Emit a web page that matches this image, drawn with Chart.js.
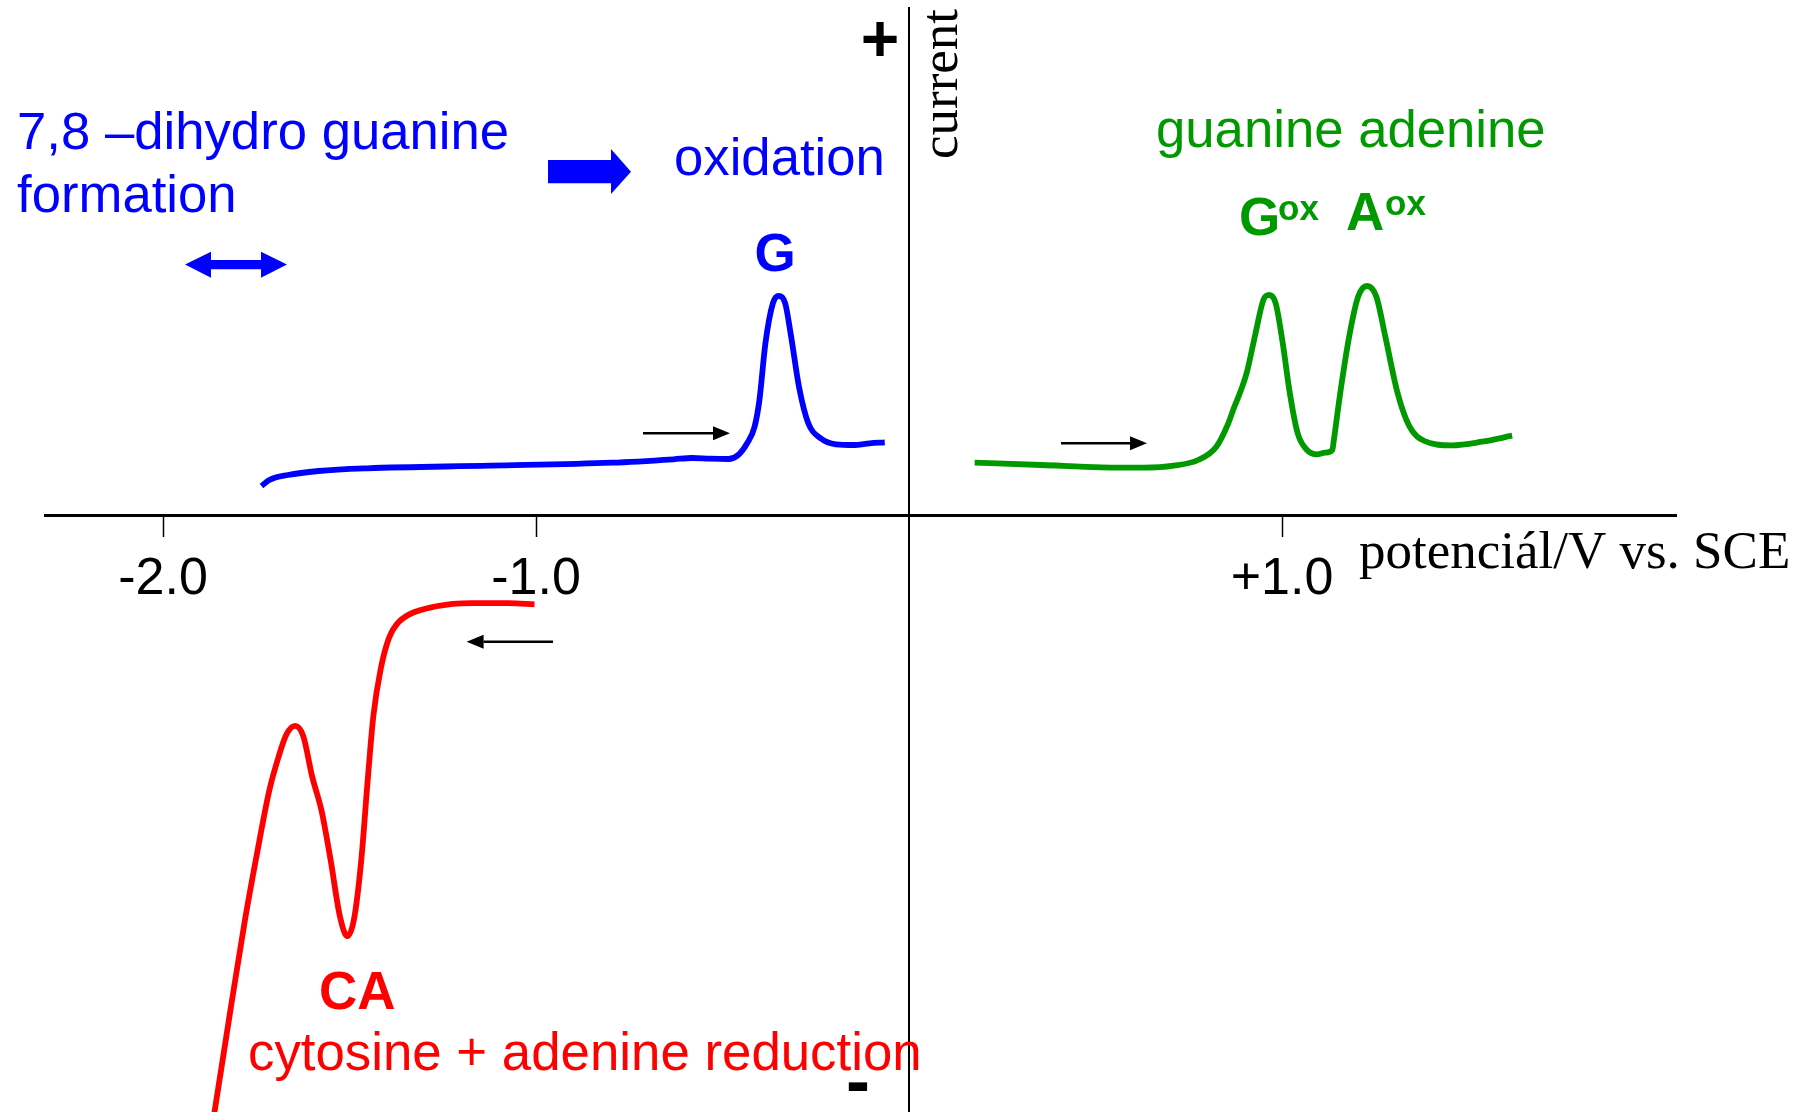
<!DOCTYPE html>
<html>
<head>
<meta charset="utf-8">
<title>DNA voltammetry sketch</title>
<script src="https://cdn.jsdelivr.net/npm/chart.js"></script>
<style>
  html, body { margin: 0; padding: 0; background: #fff; }
  canvas { display: block; }
</style>
</head>
<body>
<canvas id="voltChart" width="1807" height="1112"></canvas>
<script>
// Axis ticks (potential, V vs. SCE)
const potentialTicks = [-2, -1, 1];
const potentialTickLabels = ["-2.0", "-1.0", "+1.0"];

// Blue trace - guanine oxidation (G)
const oxidationV = [-1.736, -1.715, -1.665, -1.583, -1.452, -1.123, -0.796, -0.631, -0.582, -0.534, -0.484, -0.458, -0.434, -0.414, -0.401, -0.385, -0.365, -0.349, -0.332, -0.316, -0.295, -0.270, -0.237, -0.196, -0.147, -0.106, -0.065];
const oxidationI = [0.29, 0.35, 0.40, 0.44, 0.467, 0.493, 0.523, 0.557, 0.57, 0.563, 0.56, 0.60, 0.717, 0.883, 1.15, 1.717, 2.117, 2.19, 2.117, 1.783, 1.283, 0.917, 0.767, 0.707, 0.70, 0.717, 0.727];

// Red trace - cytosine + adenine reduction (CA)
const reductionV = [-1.875, -1.862, -1.821, -1.780, -1.747, -1.715, -1.690, -1.669, -1.646, -1.624, -1.600, -1.575, -1.550, -1.526, -1.506, -1.488, -1.468, -1.452, -1.436, -1.416, -1.394, -1.373, -1.337, -1.271, -1.173, -1.074, -1.004];
const reductionI = [-6.3, -5.971, -4.993, -4.043, -3.365, -2.754, -2.415, -2.194, -2.109, -2.211, -2.618, -2.957, -3.466, -4.009, -4.213, -4.043, -3.432, -2.686, -2.007, -1.532, -1.227, -1.091, -0.989, -0.915, -0.881, -0.881, -0.894];

// Green trace - guanine and adenine oxidation (Gox, Aox)
const purineV = [0.176, 0.354, 0.516, 0.629, 0.710, 0.775, 0.824, 0.856, 0.872, 0.885, 0.905, 0.929, 0.950, 0.966, 0.983, 1.002, 1.021, 1.042, 1.067, 1.094, 1.115, 1.135, 1.139, 1.156, 1.180, 1.204, 1.228, 1.253, 1.277, 1.310, 1.342, 1.382, 1.455, 1.536, 1.617];
const purineI = [0.523, 0.50, 0.477, 0.473, 0.493, 0.55, 0.683, 0.917, 1.08, 1.2, 1.417, 1.817, 2.15, 2.20, 2.117, 1.717, 1.217, 0.817, 0.65, 0.607, 0.623, 0.65, 0.75, 1.217, 1.783, 2.183, 2.29, 2.183, 1.783, 1.217, 0.883, 0.74, 0.697, 0.733, 0.793];

const toPoints = (xs, ys) => xs.map((x, i) => ({ x: x, y: ys[i] }));

const SANS = '"Liberation Sans", Arial, sans-serif';
const SERIF = '"Liberation Serif", "Times New Roman", serif';

function text(c, str, x, y, font, color, align) {
  c.font = font;
  c.fillStyle = color;
  c.textAlign = align || "left";
  c.textBaseline = "alphabetic";
  c.fillText(str, x, y);
}

function smallArrow(c, x1, x2, y) {
  // thin black arrow, head at x2
  const dir = x2 > x1 ? 1 : -1;
  const headLen = 17;
  c.strokeStyle = "#000";
  c.lineWidth = 2.5;
  c.beginPath();
  c.moveTo(x1, y);
  c.lineTo(x2 - dir * headLen, y);
  c.stroke();
  c.fillStyle = "#000";
  c.beginPath();
  c.moveTo(x2, y);
  c.lineTo(x2 - dir * headLen, y - 7);
  c.lineTo(x2 - dir * headLen, y + 7);
  c.closePath();
  c.fill();
}

const annotations = {
  id: "annotations",
  afterDraw(chart) {
    const c = chart.ctx;
    c.save();

    // blue labels
    text(c, "7,8 \u2013dihydro guanine", 17, 149, `52.7px ${SANS}`, "#0000ff");
    text(c, "formation", 17, 212, `52.7px ${SANS}`, "#0000ff");
    text(c, "oxidation", 674, 175, `52.7px ${SANS}`, "#0000ff");
    text(c, "G", 775, 271, `bold 53px ${SANS}`, "#0000ff", "center");

    // thick blue arrow
    c.fillStyle = "#0000ff";
    c.beginPath();
    c.moveTo(548, 160);
    c.lineTo(611, 160);
    c.lineTo(611, 149);
    c.lineTo(631, 171.7);
    c.lineTo(611, 194);
    c.lineTo(611, 183.3);
    c.lineTo(548, 183.3);
    c.closePath();
    c.fill();

    // double-headed blue arrow
    c.beginPath();
    c.moveTo(185, 264.6);
    c.lineTo(211, 251.7);
    c.lineTo(211, 260);
    c.lineTo(261, 260);
    c.lineTo(261, 251.7);
    c.lineTo(287, 264.6);
    c.lineTo(261, 277.7);
    c.lineTo(261, 269.3);
    c.lineTo(211, 269.3);
    c.lineTo(211, 277.7);
    c.closePath();
    c.fill();

    // green labels
    text(c, "guanine adenine", 1156, 147, `52.7px ${SANS}`, "#009900");
    text(c, "G", 1239, 235, `bold 53px ${SANS}`, "#009900");
    text(c, "ox", 1278, 220, `bold 35px ${SANS}`, "#009900");
    text(c, "A", 1346, 230, `bold 53px ${SANS}`, "#009900");
    text(c, "ox", 1385, 215, `bold 35px ${SANS}`, "#009900");

    // red labels
    text(c, "CA", 319, 1009, `bold 53px ${SANS}`, "#ff0000");
    text(c, "cytosine + adenine reduction", 248, 1070, `52.8px ${SANS}`, "#ff0000");

    // scan direction arrows
    smallArrow(c, 643, 730, 433.3);
    smallArrow(c, 1061, 1147, 443.3);
    smallArrow(c, 553, 466.6, 641.8);

    // axis names and signs
    text(c, "potenci\u00e1l/V vs. SCE", 1359, 568, `53px ${SERIF}`, "#000");
    c.save();
    c.translate(957, 159);
    c.rotate(-Math.PI / 2);
    text(c, "current", 0, 0, `53px ${SERIF}`, "#000");
    c.restore();
    c.textBaseline = "middle";
    c.textAlign = "center";
    c.fillStyle = "#000";
    c.font = `bold 66px ${SANS}`;
    c.fillText("+", 880, 43);
    c.font = `bold 72px ${SANS}`;
    c.fillText("-", 858, 1085);

    c.restore();
  },
};

const ctx = document.getElementById("voltChart").getContext("2d");
const voltChart = new Chart(ctx, {
  type: "line",
  data: {
    datasets: [
      {
        label: "reduction",
        data: toPoints(reductionV, reductionI),
        borderColor: "#ff0000",
        borderWidth: 5.8,
        pointRadius: 0,
        cubicInterpolationMode: "monotone",
        fill: false,
      },
      {
        label: "oxidation",
        data: toPoints(oxidationV, oxidationI),
        borderColor: "#0000ff",
        borderWidth: 5.8,
        pointRadius: 0,
        cubicInterpolationMode: "monotone",
        fill: false,
      },
      {
        label: "guanine adenine",
        data: toPoints(purineV, purineI),
        borderColor: "#009900",
        borderWidth: 5.8,
        pointRadius: 0,
        cubicInterpolationMode: "monotone",
        fill: false,
      },
    ],
  },
  options: {
    responsive: false,
    animation: false,
    layout: {
      padding: { left: 45, right: 131, top: 8, bottom: 0 },
    },
    scales: {
      x: {
        type: "linear",
        position: { y: 0 },
        min: -2.3164,
        max: 2.0563,
        afterBuildTicks: (scale) => {
          scale.ticks = potentialTicks.map((v) => ({ value: v }));
        },
        ticks: {
          autoSkip: false,
          maxRotation: 0,
          padding: 13,
          color: "#000",
          font: { family: SANS, size: 52 },
          callback: (value) => potentialTickLabels[potentialTicks.indexOf(value)],
        },
        grid: {
          drawOnChartArea: false,
          drawTicks: true,
          tickLength: 20,
          tickColor: "#000",
          tickWidth: 1.5,
        },
        border: { display: true, color: "#000", width: 3 },
      },
      y: {
        type: "linear",
        position: { x: 0 },
        min: -5.97,
        max: 5.07,
        ticks: { display: false },
        grid: { display: false, drawTicks: false },
        border: { display: true, color: "#000", width: 2 },
      },
    },
    plugins: {
      legend: { display: false },
      tooltip: { enabled: false },
    },
  },
  plugins: [annotations],
});
</script>
</body>
</html>
